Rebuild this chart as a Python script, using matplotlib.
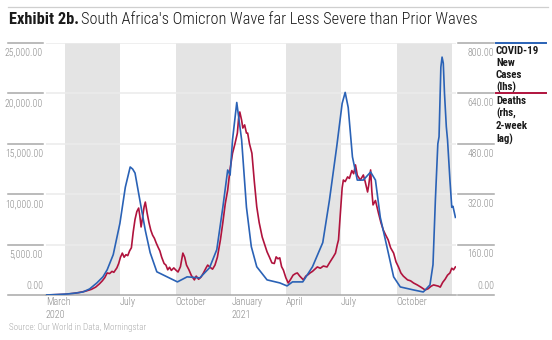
import matplotlib
matplotlib.use("Agg")
import matplotlib.pyplot as plt
from matplotlib.lines import Line2D
import pandas as pd

FONT = ["Roboto Condensed", "DejaVu Sans"]
plt.rcParams["font.family"] = FONT

# ---------------- data ----------------
case_dates = ["2020-03-01", "2020-03-20", "2020-04-05", "2020-04-20", "2020-05-01", "2020-05-12",
              "2020-05-24", "2020-06-03", "2020-06-10", "2020-06-20", "2020-07-01", "2020-07-10",
              "2020-07-18", "2020-07-22", "2020-07-26", "2020-08-03", "2020-08-12", "2020-08-20",
              "2020-08-31", "2020-09-17", "2020-10-04", "2020-10-20", "2020-11-10", "2020-11-26",
              "2020-12-08", "2020-12-18", "2020-12-26", "2020-12-30", "2021-01-03", "2021-01-10",
              "2021-01-18", "2021-01-26", "2021-02-03", "2021-02-12", "2021-03-01", "2021-03-22",
              "2021-04-03", "2021-04-12", "2021-04-29", "2021-05-15", "2021-06-01", "2021-06-12",
              "2021-06-24", "2021-07-03", "2021-07-08", "2021-07-13", "2021-07-20", "2021-07-28",
              "2021-08-07", "2021-08-19", "2021-08-27", "2021-09-04", "2021-09-16", "2021-09-26",
              "2021-10-07", "2021-10-29", "2021-11-14", "2021-11-25", "2021-11-30", "2021-12-04",
              "2021-12-08", "2021-12-10", "2021-12-13", "2021-12-15", "2021-12-17", "2021-12-19",
              "2021-12-22", "2021-12-24", "2021-12-28", "2021-12-31", "2022-01-02", "2022-01-06"]
cases = [0, 50, 100, 200, 300, 600,
         1200, 1800, 2500, 4000, 7100, 10700,
         12700, 12500, 12100, 9400, 6400, 4200,
         2300, 1800, 1300, 1800, 1700, 2700,
         4500, 8700, 12400, 11900, 15400, 19100,
         15400, 8700, 4800, 2800, 1500, 1200,
         900, 1300, 1300, 2800, 5200, 9400,
         14700, 19000, 20100, 18600, 13700, 11400,
         11400, 12200, 11400, 7700, 4500, 1800,
         800, 500, 300, 1000, 3000, 9500,
         15000, 15700, 22600, 23600, 23000, 20000,
         16700, 15400, 11400, 8700, 8800, 7700]

death_dates = ["2020-03-01", "2020-04-01", "2020-04-15", "2020-04-25", "2020-05-05", "2020-05-15",
               "2020-05-22", "2020-05-28", "2020-06-02", "2020-06-06", "2020-06-10", "2020-06-14",
               "2020-06-18", "2020-06-21", "2020-06-26", "2020-06-29", "2020-07-02", "2020-07-05",
               "2020-07-08", "2020-07-11", "2020-07-14", "2020-07-17", "2020-07-20", "2020-07-23",
               "2020-07-26", "2020-07-29", "2020-08-01", "2020-08-03", "2020-08-05", "2020-08-07",
               "2020-08-10", "2020-08-12", "2020-08-15", "2020-08-18", "2020-08-21", "2020-08-24",
               "2020-08-27", "2020-08-30", "2020-09-02", "2020-09-05", "2020-09-08", "2020-09-12",
               "2020-09-15", "2020-09-18", "2020-09-21", "2020-09-24", "2020-09-28", "2020-10-01",
               "2020-10-05", "2020-10-09", "2020-10-13", "2020-10-16", "2020-10-19", "2020-10-23",
               "2020-10-27", "2020-11-01", "2020-11-04", "2020-11-08", "2020-11-12", "2020-11-16",
               "2020-11-20", "2020-11-23", "2020-11-27", "2020-12-01", "2020-12-05", "2020-12-09",
               "2020-12-14", "2020-12-18", "2020-12-22", "2020-12-26", "2020-12-30", "2021-01-03",
               "2021-01-07", "2021-01-11", "2021-01-13", "2021-01-15", "2021-01-18", "2021-01-20",
               "2021-01-23", "2021-01-26", "2021-01-28", "2021-01-31", "2021-02-04", "2021-02-08",
               "2021-02-12", "2021-02-16", "2021-02-21", "2021-02-25", "2021-03-01", "2021-03-05",
               "2021-03-09", "2021-03-13", "2021-03-16", "2021-03-19", "2021-03-22", "2021-03-25",
               "2021-03-28", "2021-04-01", "2021-04-05", "2021-04-09", "2021-04-13", "2021-04-17",
               "2021-04-20", "2021-04-24", "2021-04-28", "2021-04-30", "2021-05-04", "2021-05-08",
               "2021-05-11", "2021-05-15", "2021-05-19", "2021-05-23", "2021-05-28", "2021-06-02",
               "2021-06-08", "2021-06-13", "2021-06-18", "2021-06-22", "2021-06-25", "2021-06-27",
               "2021-06-30", "2021-07-03", "2021-07-05", "2021-07-08", "2021-07-12", "2021-07-15",
               "2021-07-19", "2021-07-22", "2021-07-25", "2021-07-28", "2021-08-02", "2021-08-05",
               "2021-08-07", "2021-08-10", "2021-08-14", "2021-08-16", "2021-08-19", "2021-08-21",
               "2021-08-23", "2021-08-27", "2021-09-01", "2021-09-05", "2021-09-09", "2021-09-13",
               "2021-09-17", "2021-09-21", "2021-09-26", "2021-09-30", "2021-10-04", "2021-10-08",
               "2021-10-12", "2021-10-19", "2021-10-24", "2021-10-29", "2021-11-04", "2021-11-10",
               "2021-11-17", "2021-11-22", "2021-11-27", "2021-12-01", "2021-12-05", "2021-12-09",
               "2021-12-12", "2021-12-16", "2021-12-20", "2021-12-24", "2021-12-28", "2021-12-31",
               "2022-01-03", "2022-01-06"]
deaths = [0, 2, 5, 8, 12, 18,
          25, 35, 45, 55, 70, 68,
          75, 72, 86, 100, 120, 133,
          120, 128, 125, 140, 150, 200,
          240, 265, 276, 250, 216, 240,
          280, 295, 260, 230, 206, 190,
          180, 165, 152, 140, 120, 100,
          95, 80, 88, 78, 86, 80,
          73, 90, 133, 120, 95, 80,
          62, 48, 60, 50, 57, 70,
          85, 95, 88, 82, 95, 120,
          175, 230, 290, 333, 400, 450,
          480, 514, 560, 581, 555, 530,
          540, 514, 514, 480, 450, 360,
          280, 230, 184, 160, 137, 120,
          102, 100, 121, 115, 118, 90,
          79, 55, 38, 50, 63, 68,
          70, 60, 52, 48, 60, 65,
          70, 75, 82, 89, 85, 92,
          89, 105, 120, 133, 160, 175,
          260, 340, 365, 360, 375, 370,
          395, 385, 413, 380, 365, 375,
          381, 360, 327, 350, 397, 330,
          286, 300, 260, 230, 206, 190,
          175, 150, 133, 105, 89, 70,
          60, 48, 45, 38, 32, 25,
          16, 20, 28, 32, 30, 28,
          25, 40, 50, 63, 70, 85,
          80, 89]

shade_starts = ["2020-04-01", "2020-10-01", "2021-04-01", "2021-10-01"]
shade_ends = ["2020-07-01", "2021-01-01", "2021-07-01", "2022-01-01"]

xtick_dates = ["2020-03-01", "2020-07-01", "2020-10-01", "2021-01-01", "2021-04-01", "2021-07-01", "2021-10-01"]
xtick_labels = ["March\n2020", "July", "October", "January\n2021", "April", "July", "October"]

left_ticks = [0, 5000, 10000, 15000, 20000, 25000]
right_ticks = [0, 160, 320, 480, 640, 800]

x_start, x_end = "2020-03-01", "2022-01-07"

title_bold = "Exhibit 2b."
title_rest = "South Africa's Omicron Wave far Less Severe than Prior Waves"
source = "Source: Our World in Data, Morningstar"
legend_cases = "COVID-19\nNew\nCases\n(lhs)"
legend_deaths = "Deaths\n(rhs,\n2-week\nlag)"

BLUE = "#2a62b6"
RED = "#b0133d"
SHADE = "#e4e4e4"
GRID = "#ebebeb"
TICKC = "#a8a8a8"
LABC = "#8a8a8a"

# ---------------- figure ----------------
W, H = 552, 340
fig = plt.figure(figsize=(W / 100, H / 100), dpi=100)
L, R, T, B = 46, 456, 43, 295
ax = fig.add_axes([L / W, (H - B) / H, (R - L) / W, (B - T) / H])
ax2 = ax.twinx()
ax.set_zorder(ax2.get_zorder() + 1)
ax.patch.set_visible(False)

cd = pd.to_datetime(case_dates)
dd = pd.to_datetime(death_dates)

for s, e in zip(shade_starts, shade_ends):
    ax2.axvspan(pd.Timestamp(s), pd.Timestamp(e), color=SHADE, lw=0, zorder=0)

ax.set_ylim(0, 25000)
ax2.set_ylim(0, 800)
ax.set_xlim(pd.Timestamp(x_start), pd.Timestamp(x_end))

# gridlines
for v in left_ticks[1:]:
    ax2.axhline(v * 800 / 25000, color=GRID, lw=1.1, zorder=0.5)

ax2.plot(dd, deaths, color=RED, lw=1.2, zorder=2)
ax.plot(cd, cases, color=BLUE, lw=1.2, zorder=3)

for a in (ax, ax2):
    for sp in a.spines.values():
        sp.set_visible(False)
    a.set_yticks([])
ax.spines["bottom"].set_visible(True)
ax.spines["bottom"].set_color(TICKC)
ax.spines["bottom"].set_linewidth(1.1)

ax.set_xticks(pd.to_datetime(xtick_dates))
ax.set_xticklabels(xtick_labels, ha="left", color=LABC, fontsize=7.2, linespacing=1.35,
                   fontweight="light")
ax.tick_params(axis="x", length=0, pad=1.5)

aw = R - L
ytr = ax.get_yaxis_transform()
ytr2 = ax2.get_yaxis_transform()
for v in left_ticks:
    x0 = (8 - L) / aw
    x1 = 0 if v == 0 else (43 - L) / aw
    ax.plot([x0, x1], [v, v], transform=ytr, color=TICKC, lw=1.1, clip_on=False)
    off = 3 if v == 0 else -3.5
    ax.annotate(f"{v:,.2f}", xy=((43 - L) / aw, v), xycoords=ytr, xytext=(0, off),
                textcoords="offset points", ha="right", va="bottom" if v == 0 else "top",
                fontsize=7, color=LABC, fontweight="light")
for v in right_ticks:
    x0 = (458 - L) / aw
    x1 = (494 - L) / aw
    ax2.plot([x0, x1], [v, v], transform=ytr2, color=TICKC, lw=1.1, clip_on=False)
    off = 3 if v == 0 else -3.5
    ax2.annotate(f"{v:,.2f}", xy=(x1, v), xycoords=ytr2, xytext=(0, off),
                 textcoords="offset points", ha="right", va="bottom" if v == 0 else "top",
                 fontsize=7, color=LABC, fontweight="light")

# legend
fig.add_artist(Line2D([496 / W, 546 / W], [1 - 43 / H, 1 - 43 / H], color=BLUE, lw=1.4))
fig.add_artist(Line2D([496 / W, 546 / W], [1 - 93 / H, 1 - 93 / H], color=RED, lw=1.4))
fig.text(496 / W, 1 - 46 / H, legend_cases, ha="left", va="top", fontsize=7.8,
         fontweight="bold", color="#1a1a1a", linespacing=1.25)
fig.text(496 / W, 1 - 96 / H, legend_deaths, ha="left", va="top", fontsize=7.8,
         fontweight="bold", color="#1a1a1a", linespacing=1.25)

# title
fig.add_artist(Line2D([8 / W, 548 / W], [1 - 7 / H, 1 - 7 / H], color="#cfcfcf", lw=0.9))
t1 = fig.text(9 / W, 1 - 20 / H, title_bold, ha="left", va="center", fontsize=11.8,
              fontweight="bold", color="#1a1a1a")
fig.canvas.draw()
bb = t1.get_window_extent()
fig.text((bb.x1 + 2) / W, 1 - 20 / H, title_rest, ha="left", va="center", fontsize=11.8,
         color="#1a1a1a", fontweight="light")

fig.text(9 / W, 1 - 327 / H, source, ha="left", va="center", fontsize=6.6, color="#ababab",
         fontweight="light")

fig.savefig("out.png", dpi=100)
